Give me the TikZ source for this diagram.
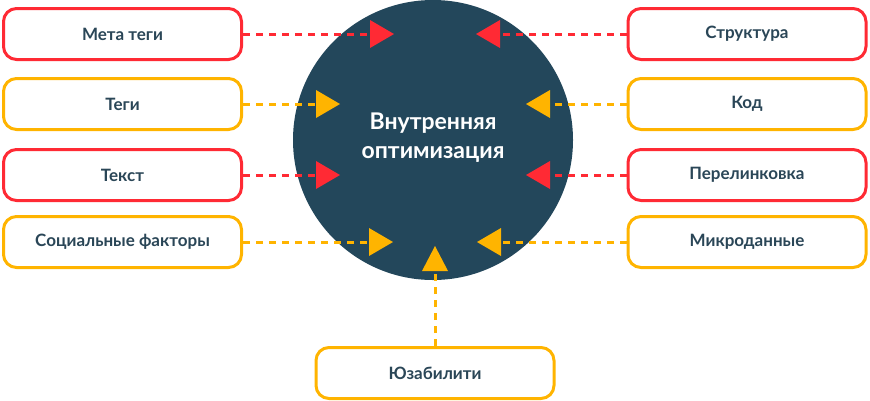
\documentclass[tikz,border=0pt]{standalone}
\usepackage{fontspec}
\setmainfont{Lato}
\usetikzlibrary{calc}
\definecolor{cred}{HTML}{FF2A34}
\definecolor{cyel}{HTML}{FFB400}
\definecolor{cnavy}{HTML}{23475B}
\definecolor{ctext}{HTML}{2A4657}
\tikzset{
  box/.style={draw=#1, line width=3pt, rounded corners=13pt, minimum width=238pt, minimum height=51pt, inner sep=0pt, fill=white, text=ctext, font=\fontsize{17}{20}\selectfont\bfseries},
  conn/.style={draw=#1, line width=3pt, dash pattern=on 7pt off 6pt},
  tri/.style={fill=#1},
}
\begin{document}
\begin{tikzpicture}[x=1pt,y=-1pt]
\useasboundingbox (0,0) rectangle (870,400);
\node[circle, fill=cnavy, minimum size=280pt, inner sep=0pt] (hub) at (433,140) {};
\node[text=white, align=center, font=\fontsize{23}{29}\selectfont\bfseries] (hubtext) at (433,138) {Внутренняя\\оптимизация};
% left boxes
\node[box=cred] (meta) at (122.5,34) {Мета теги};
\node[box=cyel] (tegi) at (122.5,104) {Теги};
\node[box=cred] (text) at (122.5,175) {Текст};
\node[box=cyel] (soc) at (122.5,242) {Социальные факторы};
% right boxes
\node[box=cred] (str) at (747,34) {Структура};
\node[box=cyel] (kod) at (747,104) {Код};
\node[box=cred] (per) at (747,175) {Перелинковка};
\node[box=cyel] (mik) at (747,242) {Микроданные};
% bottom
\node[box=cyel] (usab) at (435,373) {Юзабилити};
% arrow base coordinates
\coordinate (bmeta) at (370,34);
\coordinate (btegi) at (316,104);
\coordinate (btext) at (316,175);
\coordinate (bsoc) at (369,242);
\coordinate (bstr) at (500,34);
\coordinate (bkod) at (550,104);
\coordinate (bper) at (550,175);
\coordinate (bmik) at (501,242);
\coordinate (busab) at (435,271);
% connectors
\draw[conn=cred] (meta.east) -- (bmeta);
\draw[conn=cyel] (tegi.east) -- (btegi);
\draw[conn=cred] (text.east) -- (btext);
\draw[conn=cyel] (soc.east) -- (bsoc);
\draw[conn=cred] (str.west) -- (bstr);
\draw[conn=cyel] (kod.west) -- (bkod);
\draw[conn=cred] (per.west) -- (bper);
\draw[conn=cyel] (mik.west) -- (bmik);
\draw[conn=cyel] (usab.north) -- (busab);
% triangles
\fill[tri=cred] ($(bmeta)+(0,-14)$) -- ($(bmeta)+(24,0)$) -- ($(bmeta)+(0,14)$) -- cycle;
\fill[tri=cyel] ($(btegi)+(0,-14)$) -- ($(btegi)+(24,0)$) -- ($(btegi)+(0,14)$) -- cycle;
\fill[tri=cred] ($(btext)+(0,-14)$) -- ($(btext)+(24,0)$) -- ($(btext)+(0,14)$) -- cycle;
\fill[tri=cyel] ($(bsoc)+(0,-14)$) -- ($(bsoc)+(24,0)$) -- ($(bsoc)+(0,14)$) -- cycle;
\fill[tri=cred] ($(bstr)+(0,-14)$) -- ($(bstr)+(-24,0)$) -- ($(bstr)+(0,14)$) -- cycle;
\fill[tri=cyel] ($(bkod)+(0,-14)$) -- ($(bkod)+(-24,0)$) -- ($(bkod)+(0,14)$) -- cycle;
\fill[tri=cred] ($(bper)+(0,-14)$) -- ($(bper)+(-24,0)$) -- ($(bper)+(0,14)$) -- cycle;
\fill[tri=cyel] ($(bmik)+(0,-14)$) -- ($(bmik)+(-24,0)$) -- ($(bmik)+(0,14)$) -- cycle;
\fill[tri=cyel] ($(busab)+(-13,0)$) -- ($(busab)+(0,-25)$) -- ($(busab)+(13,0)$) -- cycle;
\end{tikzpicture}
\end{document}
